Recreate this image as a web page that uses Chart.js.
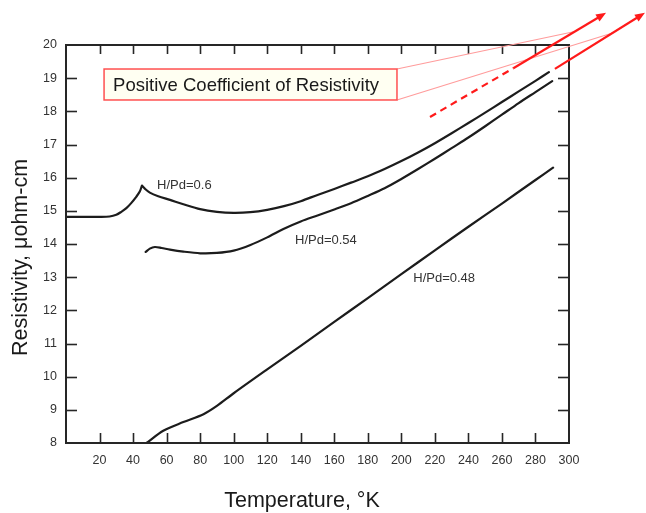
<!DOCTYPE html>
<html><head><meta charset="utf-8">
<script src="https://cdn.jsdelivr.net/npm/chart.js@4.4.1/dist/chart.umd.min.js"></script>
<style>html,body{margin:0;padding:0;background:#fff;} canvas{display:block;}</style>
</head><body>
<canvas id="c" width="646" height="513"></canvas>
<script>
// ---- data ----
// the peak of H/Pd=0.6 is a cusp, so its point is listed twice
const temp60 = [0, 10, 20, 26, 30, 33, 36, 39, 42, 44, 45.3, 45.3, 47, 50, 55, 62, 70, 80, 90, 100, 110, 120, 130, 140, 150, 160, 170, 180, 190, 200, 210, 220, 230, 240, 250, 260, 270, 280, 288];
const res60  = [14.82, 14.82, 14.82, 14.83, 14.88, 14.97, 15.08, 15.24, 15.43, 15.58, 15.76, 15.76, 15.67, 15.55, 15.44, 15.33, 15.2, 15.05, 14.97, 14.94, 14.96, 15.03, 15.14, 15.29, 15.48, 15.66, 15.85, 16.04, 16.26, 16.5, 16.76, 17.04, 17.34, 17.65, 17.96, 18.28, 18.6, 18.92, 19.18];
const temp54 = [47.5, 50, 53, 57, 62, 70, 80, 90, 100, 110, 120, 130, 140, 150, 160, 170, 180, 190, 200, 210, 220, 230, 240, 250, 260, 270, 280, 290];
const res54  = [13.76, 13.86, 13.91, 13.88, 13.83, 13.77, 13.72, 13.73, 13.8, 13.97, 14.2, 14.46, 14.68, 14.86, 15.04, 15.23, 15.45, 15.68, 15.96, 16.26, 16.57, 16.89, 17.21, 17.55, 17.9, 18.25, 18.58, 18.91];
const temp48 = [48, 58, 70, 82, 90, 100, 120, 140, 160, 180, 200, 220, 240, 260, 280, 290.5];
const res48  = [8.0, 8.37, 8.63, 8.87, 9.12, 9.5, 10.22, 10.93, 11.65, 12.37, 13.09, 13.81, 14.52, 15.22, 15.93, 16.3];
const seriesLabels = ['H/Pd=0.6', 'H/Pd=0.54', 'H/Pd=0.48'];
const xTickValues = [20, 40, 60, 80, 100, 120, 140, 160, 180, 200, 220, 240, 260, 280, 300];
const yTickValues = [8, 9, 10, 11, 12, 13, 14, 15, 16, 17, 18, 19, 20];
const xTitle = 'Temperature, \u00B0K';
const yTitle = 'Resistivity, \u03BCohm-cm';
const calloutText = 'Positive Coefficient of Resistivity';

// ---- annotation placement (in data units, converted through the scales) ----
const labelAnchors = [{x: 54.3, y: 15.78}, {x: 136.6, y: 14.12}, {x: 207.1, y: 12.97}];
const calloutBox = {x0: 22.7, x1: 197.4, y0: 19.276, y1: 18.342};
const arrow1 = {start: {x: 217.1, y: 17.83}, dashEnd: {x: 266.8, y: 19.30}, tip: {x: 322.1, y: 20.97}};
const arrow2 = {start: {x: 291.6, y: 19.28}, tip: {x: 345.3, y: 20.97}};
const leader1 = {x: 302.8, y: 20.40};
const leader2 = {x: 326.4, y: 20.37};

const toXY = (xs, ys) => xs.map((v, i) => ({x: v, y: ys[i]}));
const curveStyle = {showLine: true, pointRadius: 0, borderColor: '#1c1c1c', borderWidth: 2.2, tension: 0.3, fill: false, borderJoinStyle: 'round', borderCapStyle: 'round'};

const decor = {
  id: 'decor',
  afterDraw(chart) {
    const {ctx, chartArea: a, scales: {x, y}} = chart;
    const P = p => [x.getPixelForValue(p.x), y.getPixelForValue(p.y)];
    const seg = (x1, y1, x2, y2) => { ctx.beginPath(); ctx.moveTo(x1, y1); ctx.lineTo(x2, y2); ctx.stroke(); };
    ctx.save();
    // frame
    ctx.strokeStyle = '#262626'; ctx.lineWidth = 2;
    ctx.strokeRect(a.left, a.top, a.right - a.left, a.bottom - a.top);
    // inward ticks
    ctx.lineWidth = 1.6;
    x.ticks.forEach(t => {
      if (t.value <= x.min || t.value >= x.max) return;
      const px = Math.round(x.getPixelForValue(t.value)) + 0.5;
      seg(px, a.bottom, px, a.bottom - 10);
      seg(px, a.top, px, a.top + 9);
    });
    y.ticks.forEach(t => {
      if (t.value <= y.min || t.value >= y.max) return;
      const py = Math.round(y.getPixelForValue(t.value)) + 0.5;
      seg(a.left, py, a.left + 11, py);
      seg(a.right, py, a.right - 11, py);
    });
    // curve labels
    ctx.fillStyle = '#333'; ctx.font = '13px "Liberation Sans", Arial, sans-serif';
    ctx.textAlign = 'left'; ctx.textBaseline = 'middle';
    seriesLabels.forEach((s, i) => { const [px, py] = P(labelAnchors[i]); ctx.fillText(s, px, py); });
    // leader lines
    const [bx0, by0] = P({x: calloutBox.x0, y: calloutBox.y0});
    const [bx1, by1] = P({x: calloutBox.x1, y: calloutBox.y1});
    ctx.strokeStyle = '#ff9c9c'; ctx.lineWidth = 1.2;
    const [l1x, l1y] = P(leader1), [l2x, l2y] = P(leader2);
    seg(bx1, by0, l1x, l1y);
    seg(bx1, by1, l2x, l2y);
    // callout box
    ctx.fillStyle = '#fffff2'; ctx.fillRect(bx0, by0, bx1 - bx0, by1 - by0);
    ctx.strokeStyle = '#ff5050'; ctx.lineWidth = 1.5;
    ctx.strokeRect(bx0, by0, bx1 - bx0, by1 - by0);
    ctx.fillStyle = '#1a1a1a'; ctx.font = '18.5px "Liberation Sans", Arial, sans-serif';
    ctx.textBaseline = 'middle'; ctx.textAlign = 'left';
    ctx.fillText(calloutText, bx0 + 9, (by0 + by1) / 2 + 1);
    // arrows
    ctx.strokeStyle = '#ff1a1a'; ctx.fillStyle = '#ff1a1a'; ctx.lineWidth = 2.2;
    const head = (fx, fy, tx, ty) => {
      const ang = Math.atan2(ty - fy, tx - fx), L = 10, W = 4;
      ctx.beginPath();
      ctx.moveTo(tx, ty);
      ctx.lineTo(tx - L * Math.cos(ang) + W * Math.sin(ang), ty - L * Math.sin(ang) - W * Math.cos(ang));
      ctx.lineTo(tx - L * Math.cos(ang) - W * Math.sin(ang), ty - L * Math.sin(ang) + W * Math.cos(ang));
      ctx.closePath(); ctx.fill();
    };
    const [s1x, s1y] = P(arrow1.start), [d1x, d1y] = P(arrow1.dashEnd), [t1x, t1y] = P(arrow1.tip);
    ctx.setLineDash([7, 5]); seg(s1x, s1y, d1x, d1y); ctx.setLineDash([]);
    const ang1 = Math.atan2(t1y - d1y, t1x - d1x);
    seg(d1x, d1y, t1x - 8 * Math.cos(ang1), t1y - 8 * Math.sin(ang1));
    head(d1x, d1y, t1x, t1y);
    const [s2x, s2y] = P(arrow2.start), [t2x, t2y] = P(arrow2.tip);
    const ang2 = Math.atan2(t2y - s2y, t2x - s2x);
    seg(s2x, s2y, t2x - 8 * Math.cos(ang2), t2y - 8 * Math.sin(ang2));
    head(s2x, s2y, t2x, t2y);
    // axis titles
    ctx.fillStyle = '#1a1a1a'; ctx.font = '21.5px "Liberation Sans", Arial, sans-serif';
    ctx.textAlign = 'center'; ctx.textBaseline = 'alphabetic';
    ctx.fillText(xTitle, 302, 507);
    ctx.translate(27, 257.5); ctx.rotate(-Math.PI / 2);
    ctx.fillText(yTitle, 0, 0);
    ctx.restore();
  }
};

new Chart(document.getElementById('c'), {
  type: 'scatter',
  data: {
    datasets: [
      Object.assign({label: seriesLabels[0], data: toXY(temp60, res60)}, curveStyle),
      Object.assign({label: seriesLabels[1], data: toXY(temp54, res54)}, curveStyle),
      Object.assign({label: seriesLabels[2], data: toXY(temp48, res48)}, curveStyle)
    ]
  },
  options: {
    responsive: false, animation: false, devicePixelRatio: 1,
    layout: {padding: {left: 0, right: 77, top: 45, bottom: 0}},
    plugins: {legend: {display: false}, tooltip: {enabled: false}},
    scales: {
      x: {
        type: 'linear', min: 0, max: 300, position: 'bottom',
        afterBuildTicks: s => { s.ticks = xTickValues.map(v => ({value: v})); },
        afterFit: s => { s.height = 70; },
        grid: {display: false, drawTicks: false}, border: {display: false},
        ticks: {autoSkip: false, maxRotation: 0, padding: 10, color: '#333', font: {family: '"Liberation Sans", Arial, sans-serif', size: 12.5}}
      },
      y: {
        type: 'linear', min: 8, max: 20,
        afterBuildTicks: s => { s.ticks = yTickValues.map(v => ({value: v})); },
        afterFit: s => { s.width = 66; },
        grid: {display: false, drawTicks: false}, border: {display: false},
        ticks: {autoSkip: false, padding: 9, color: '#333', font: {family: '"Liberation Sans", Arial, sans-serif', size: 12.5}}
      }
    }
  },
  plugins: [decor]
});
</script>
</body></html>
